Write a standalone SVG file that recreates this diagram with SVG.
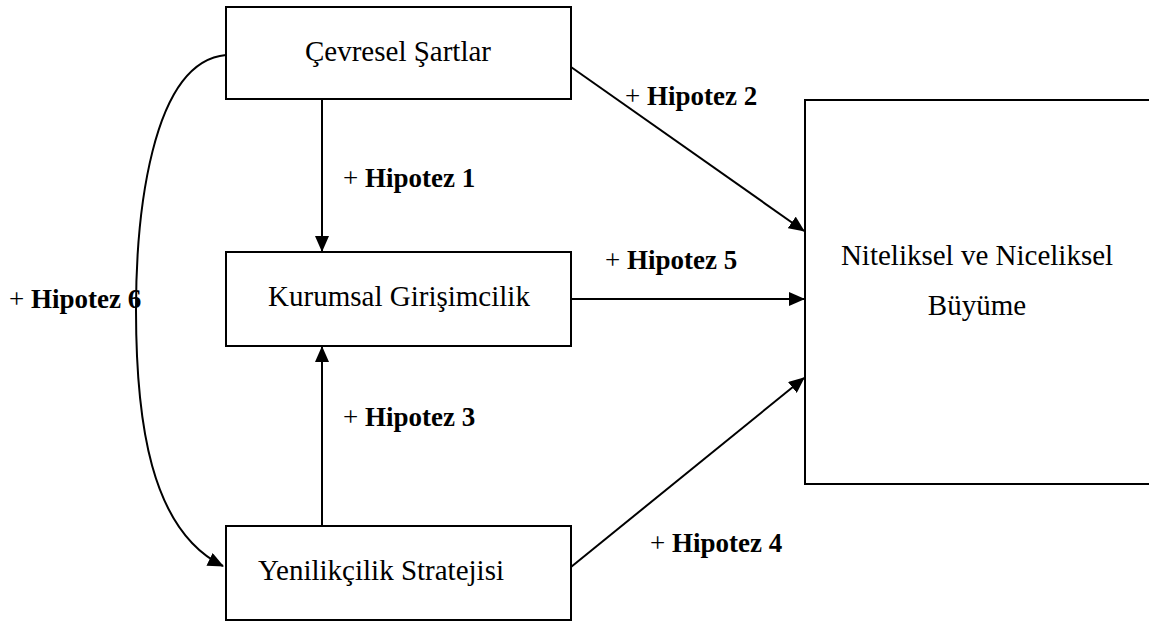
<svg xmlns="http://www.w3.org/2000/svg" width="1149" height="621" viewBox="0 0 1149 621">
<style>
.box{fill:#fff;stroke:#000;stroke-width:2}
.t{font-family:"Liberation Serif","Times New Roman",serif;font-size:29px;fill:#000}
.lbl{font-family:"Liberation Serif","Times New Roman",serif;font-size:27px;fill:#000}
.b{font-weight:bold}
.c{fill:none;stroke:#000;stroke-width:2}
</style>
<defs>
<marker id="ah" markerWidth="16" markerHeight="14" refX="15" refY="7" orient="auto" markerUnits="userSpaceOnUse">
<path d="M0,0 L16,7 L0,14 Z" fill="#000"/>
</marker>
</defs>
<rect width="1149" height="621" fill="#fff"/>
<g id="connectors">
<line class="c" x1="322" y1="99" x2="322" y2="251" marker-end="url(#ah)"/>
<line class="c" x1="322" y1="526" x2="322" y2="347" marker-end="url(#ah)"/>
<line class="c" x1="571" y1="67" x2="804" y2="231" marker-end="url(#ah)"/>
<line class="c" x1="571" y1="299" x2="804" y2="299" marker-end="url(#ah)"/>
<line class="c" x1="571" y1="567" x2="804" y2="378" marker-end="url(#ah)"/>
<path class="c" d="M226,55 C150,62 136,220 136,310 C136,420 150,530 223,566" marker-end="url(#ah)"/>
</g>
<g id="labels">
<text class="lbl" x="343" y="187">+ <tspan class="b">Hipotez 1</tspan></text>
<text class="lbl" x="625" y="105">+ <tspan class="b">Hipotez 2</tspan></text>
<text class="lbl" x="343" y="426">+ <tspan class="b">Hipotez 3</tspan></text>
<text class="lbl" x="650" y="552">+ <tspan class="b">Hipotez 4</tspan></text>
<text class="lbl" x="605" y="269">+ <tspan class="b">Hipotez 5</tspan></text>
<text class="lbl" x="9" y="308">+ <tspan class="b">Hipotez 6</tspan></text>
</g>
<g id="cevresel">
<rect class="box" x="226" y="7" width="345" height="92"/>
<text class="t" x="398" y="61" text-anchor="middle">Çevresel Şartlar</text>
</g>
<g id="kurumsal">
<rect class="box" x="226" y="252" width="345" height="94"/>
<text class="t" x="399" y="306" text-anchor="middle">Kurumsal Girişimcilik</text>
</g>
<g id="yenilikcilik">
<rect class="box" x="226" y="526" width="345" height="94"/>
<text class="t" x="381" y="580" text-anchor="middle">Yenilikçilik Stratejisi</text>
</g>
<g id="buyume">
<rect class="box" x="805" y="100" width="360" height="384"/>
<text class="t" x="977" y="265" text-anchor="middle">Niteliksel ve Niceliksel</text>
<text class="t" x="977" y="315" text-anchor="middle">Büyüme</text>
</g>
</svg>
